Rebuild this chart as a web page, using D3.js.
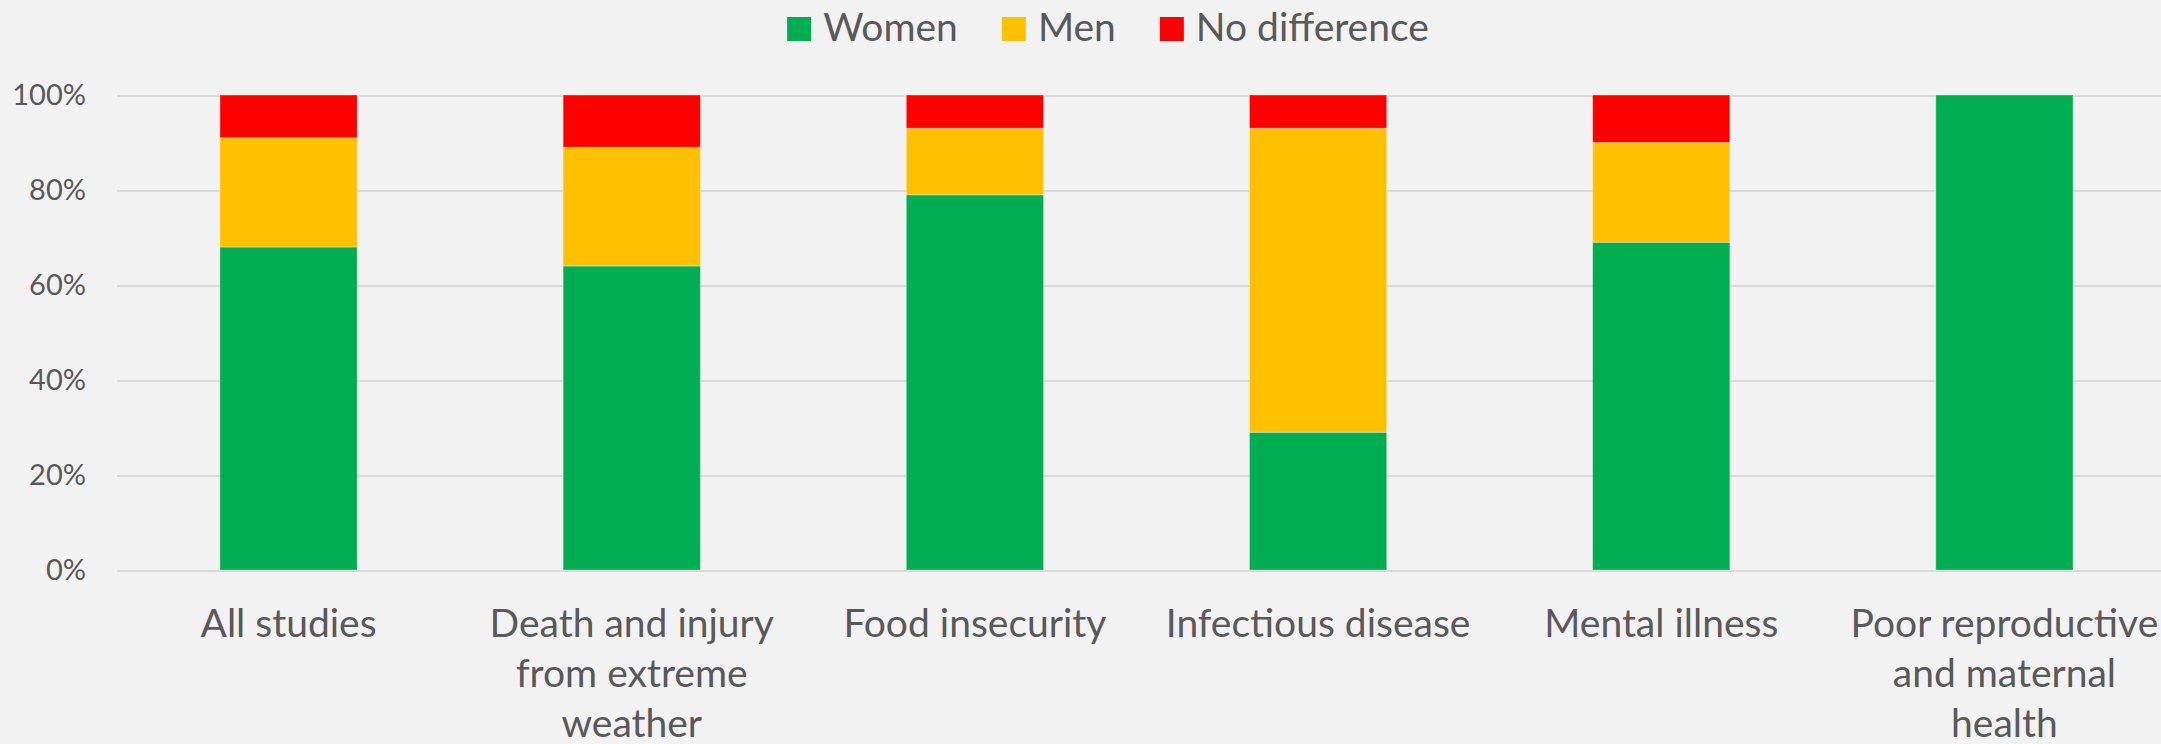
<html>
<head>
    <title>Stacked Chart</title>
    <meta charset="utf-8" />
    <style>
body {
    margin: 0;
    padding: 0;
    background: #f2f2f2;
}

svg {
    display: block;
    background-color: #f2f2f2;
}

.grid line {
    stroke: #d9d9d9;
    stroke-width: 2;
    shape-rendering: crispEdges;
}

.grid path {
    display: none;
}

text {
    font-family: Lato, 'Open Sans', sans-serif;
    fill: #595959;
}

.axis path, .axis line {
    display: none;
}
    </style>
    <script src="https://d3js.org/d3.v7.min.js"></script>
</head>
<body>
    <script>
// data (percent of studies)
var categories = ["All studies", "Death and injury from extreme weather", "Food insecurity",
    "Infectious disease", "Mental illness", "Poor reproductive and maternal health"];
var seriesNames = ["Women", "Men", "No difference"];
var women = [68, 64, 79, 29, 69, 100];
var men = [23, 25, 14, 64, 21, 0];
var noDifference = [9, 11, 7, 7, 10, 0];
var yTicks = [0, 20, 40, 60, 80, 100];
var colors = ["#00ad50", "#ffc000", "#ff0000"];

var width = 2161, height = 744;

var svg = d3.select("body").append("svg")
    .attr("width", width)
    .attr("height", height);

var rows = categories.map(function (c, i) {
    return { cat: c, "Women": women[i], "Men": men[i], "No difference": noDifference[i] };
});

var x = d3.scaleBand()
    .domain(categories)
    .range([117, 2176])
    .paddingInner(0.6)
    .paddingOuter(0.3);

var y = d3.scaleLinear()
    .domain([0, 100])
    .range([570, 95]);

// cut off title above the chart
svg.append("text")
    .attr("x", 326)
    .attr("y", -7)
    .style("fill", "#000")
    .style("font-size", "44px")
    .text("(%)");

// gridlines
svg.append("g")
    .attr("class", "grid")
    .attr("transform", "translate(117,0)")
    .call(d3.axisLeft(y).tickValues(yTicks).tickSize(-(width - 117)).tickFormat(""));

// y tick labels
var yAxis = svg.append("g")
    .attr("class", "axis")
    .attr("transform", "translate(86,0)")
    .call(d3.axisLeft(y).tickValues(yTicks).tickSize(0).tickPadding(0)
        .tickFormat(function (d) { return d + "%"; }));
yAxis.selectAll("text")
    .style("font-size", "29px")
    .style("fill", "#595959")
    .attr("text-anchor", "end");

// stacked bars
var stack = d3.stack().keys(seriesNames);
var layers = stack(rows);

svg.append("g").selectAll("g")
    .data(layers)
    .join("g")
    .attr("fill", function (d, i) { return colors[i]; })
    .selectAll("rect")
    .data(function (d) { return d; })
    .join("rect")
    .attr("x", function (d) { return x(d.data.cat); })
    .attr("width", x.bandwidth())
    .attr("y", function (d) { return y(d[1]); })
    .attr("height", function (d) { return y(d[0]) - y(d[1]); })
    .attr("stroke", "rgba(255,255,255,0.35)")
    .attr("stroke-width", 1);

// x labels
var xAxis = svg.append("g")
    .attr("class", "axis")
    .attr("transform", "translate(0,570)")
    .call(d3.axisBottom(x).tickSize(0).tickPadding(0));

xAxis.selectAll("text")
    .style("font-size", "39px")
    .style("fill", "#595959")
    .attr("y", 67)
    .attr("dy", 0)
    .call(wrap, 325);

function wrap(texts, w) {
    texts.each(function () {
        var text = d3.select(this),
            words = text.text().split(/\s+/).reverse(),
            word, line = [], lineNumber = 0,
            lineHeight = 50,
            yPos = text.attr("y"),
            tspan = text.text(null).append("tspan").attr("x", 0).attr("y", yPos);
        while ((word = words.pop())) {
            line.push(word);
            tspan.text(line.join(" "));
            if (tspan.node().getComputedTextLength() > w && line.length > 1) {
                line.pop();
                tspan.text(line.join(" "));
                line = [word];
                lineNumber++;
                tspan = text.append("tspan").attr("x", 0)
                    .attr("y", +yPos + lineNumber * lineHeight).text(word);
            }
        }
    });
}

// legend
var legend = svg.append("g");
var lx = 0;
seriesNames.forEach(function (name, i) {
    var item = legend.append("g").attr("transform", "translate(" + lx + ",0)");
    item.append("rect")
        .attr("x", 0).attr("y", 17)
        .attr("width", 24).attr("height", 24)
        .attr("fill", colors[i]);
    var t = item.append("text")
        .attr("x", 36).attr("y", 41)
        .style("font-size", "39px")
        .text(name);
    lx += 36 + t.node().getComputedTextLength() + 44;
});
var legendWidth = lx - 44;
legend.attr("transform", "translate(" + (1108 - legendWidth / 2) + ",0)");
    </script>
</body>
</html>
